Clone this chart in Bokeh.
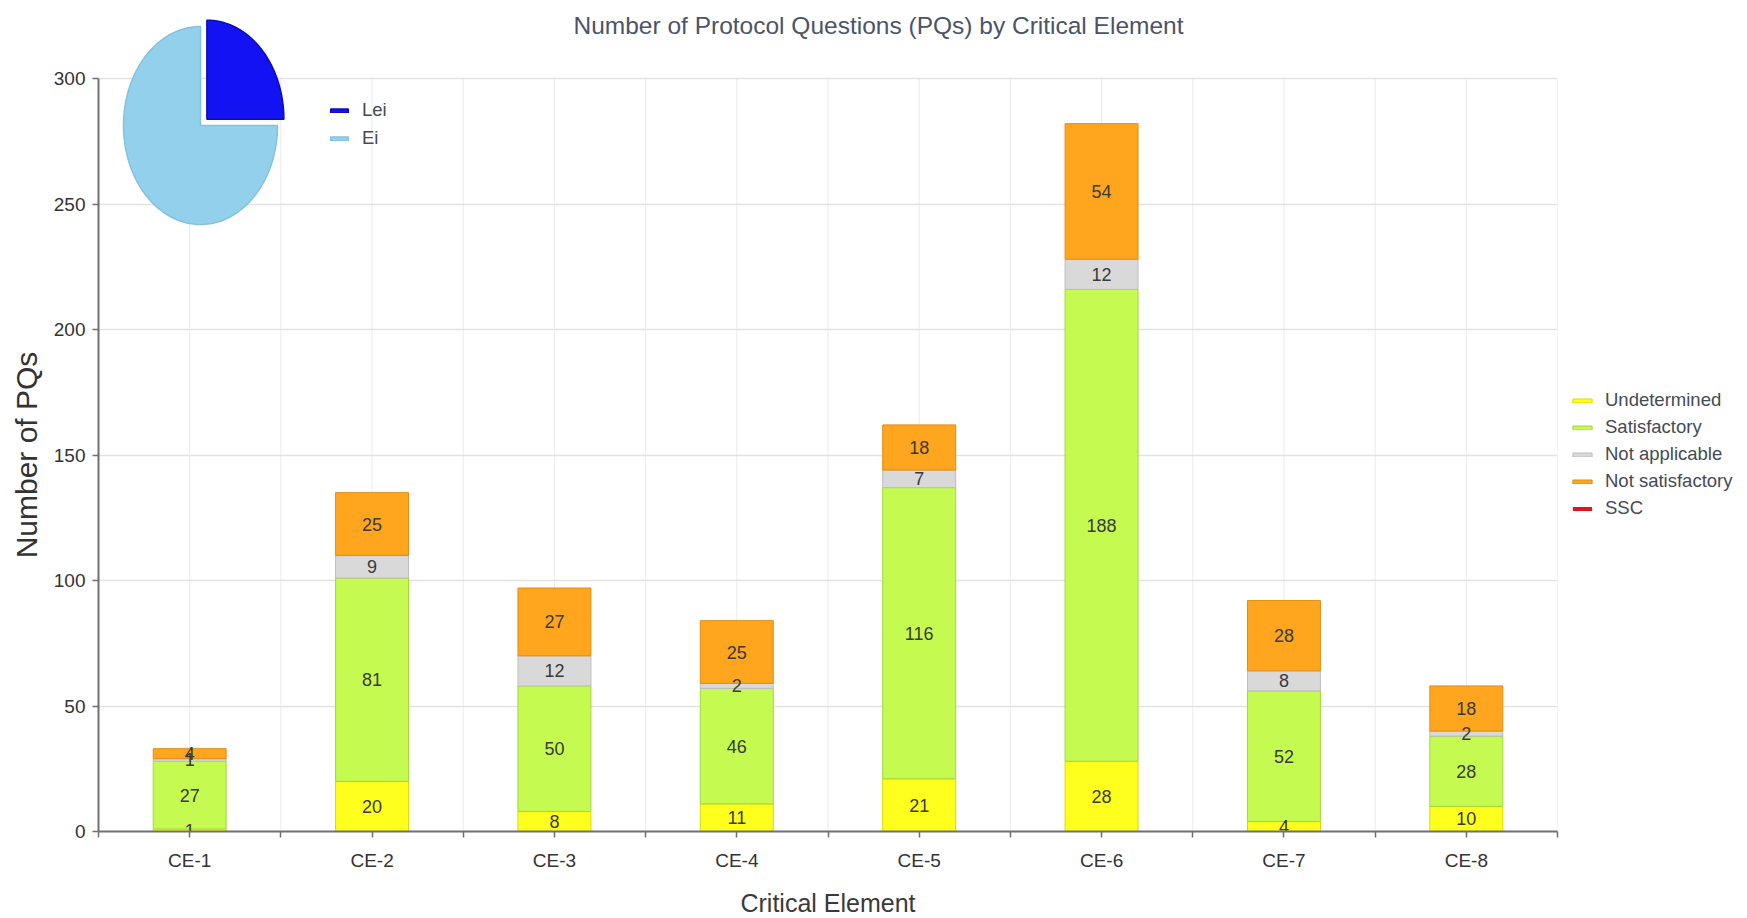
import numpy as np
from bokeh.plotting import figure
from bokeh.models import (ColumnDataSource, FixedTicker, Legend, LegendItem, Range1d, Label, Title)
from bokeh.core.properties import value
from bokeh.embed import file_html
from bokeh.resources import INLINE

# ---------------- data ----------------
categories = ["CE-1", "CE-2", "CE-3", "CE-4", "CE-5", "CE-6", "CE-7", "CE-8"]
undetermined = [1, 20, 8, 11, 21, 28, 4, 10]
satisfactory = [27, 81, 50, 46, 116, 188, 52, 28]
not_applicable = [1, 9, 12, 2, 7, 12, 8, 2]
not_satisfactory = [4, 25, 27, 25, 18, 54, 28, 18]
ssc = [0, 0, 0, 0, 0, 0, 0, 0]
series_names = ["Undetermined", "Satisfactory", "Not applicable", "Not satisfactory", "SSC"]
y_ticks = [0, 50, 100, 150, 200, 250, 300]
pie_labels = ["Lei", "Ei"]
pie_values = [25, 75]
title_text = "Number of Protocol Questions (PQs) by Critical Element"
x_title = "Critical Element"
y_title = "Number of PQs"

# ---------------- styles ----------------
FONT = "Liberation Sans"
fill_colors = ["#ffff1e", "#c5fb50", "#d9d9d9", "#ffa51e", "#e8141c"]
line_colors = ["#dcd800", "#a3d83a", "#bdbdbd", "#e48c10", None]
pie_fill = ["#1212f2", "#93d0ec"]
pie_line = ["#0b0bc0", "#82c1e0"]

# geometry (pixels, relative to the frame)
FRAME_W, FRAME_H = 1459, 821
TOP_GAP = 68                        # px between frame top and the top value line
px_per_unit = (FRAME_H - TOP_GAP) / float(y_ticks[-1])
y_top = y_ticks[-1] + TOP_GAP / px_per_unit
n = len(categories)
Y_TITLE_SIZE = 30
Y_TITLE_LEN = 6.891 * Y_TITLE_SIZE   # approx. rendered length of the y title


def dx(px):  # horizontal pixels -> data units of main x range
    return px / float(FRAME_W) * n


def dy_from_top(px):  # pixels from frame top -> data y
    return y_top - px / px_per_unit


series = [undetermined, satisfactory, not_applicable, not_satisfactory, ssc]
keys = ["s%d" % i for i in range(len(series))]
xs = np.arange(n) + 0.5
boundaries = np.arange(n + 1).astype(float)

src = ColumnDataSource(dict(x=xs.tolist(), **{k: s for k, s in zip(keys, series)}))

p = figure(frame_width=FRAME_W, frame_height=FRAME_H, output_backend="svg",
           toolbar_location=None,
           x_range=Range1d(0, n), y_range=Range1d(0, y_top),
           min_border_left=98, min_border_right=182, min_border_top=10,
           min_border_bottom=5, outline_line_color=None)

# vertical grid lines (stop at the top tick)
gx = sorted(list(xs) + list(boundaries))
p.segment(x0=gx, y0=[0] * len(gx), x1=gx, y1=[y_ticks[-1]] * len(gx),
          line_color="#ebebeb", line_width=1, level="underlay")
p.xgrid.visible = False
p.ygrid.ticker = FixedTicker(ticks=y_ticks)
p.ygrid.grid_line_color = "#e2e2e2"
p.ygrid.grid_line_width = 1.5

renderers = p.vbar_stack(keys, x="x", width=0.4, source=src,
                         fill_color=fill_colors, line_color=line_colors, line_width=1)

# segment labels
lx, ly, lt = [], [], []
bottom = np.zeros(n)
for s in series:
    arr = np.array(s, dtype=float)
    for i, v in enumerate(arr):
        if v > 0:
            lx.append(float(xs[i])); ly.append(float(bottom[i] + v / 2.0)); lt.append(str(int(v)))
    bottom = bottom + arr
lab = ColumnDataSource(dict(x=lx, y=ly, t=lt))
p.text(x="x", y="y", text="t", source=lab, text_align="center", text_baseline="middle",
       text_font=value(FONT), text_font_size="18px", text_color="#3a3a3a")

# axes
p.xaxis.ticker = FixedTicker(ticks=list(xs), minor_ticks=list(boundaries))
p.xaxis.major_label_overrides = {float(x): c for x, c in zip(xs, categories)}
p.yaxis.ticker = FixedTicker(ticks=y_ticks)
p.yaxis.bounds = (0, y_ticks[-1])
for ax in (p.xaxis[0], p.yaxis[0]):
    ax.axis_line_color = "#707070"
    ax.axis_line_width = 2
    ax.major_tick_line_color = "#707070"
    ax.major_tick_line_width = 1.5
    ax.major_tick_out = 6
    ax.major_tick_in = 0
    ax.major_label_text_font = FONT
    ax.major_label_text_font_size = "19px"
    ax.major_label_text_color = "#333333"
    ax.axis_label_text_font_style = "normal"
p.xaxis.minor_tick_line_color = "#707070"
p.xaxis.minor_tick_line_width = 1.5
p.xaxis.minor_tick_out = 6
p.xaxis.minor_tick_in = 0
p.yaxis.minor_tick_line_color = None
p.xaxis.major_label_standoff = 12
p.yaxis.major_label_standoff = 7
p.xaxis.axis_label = x_title
p.xaxis.axis_label_text_font = FONT
p.xaxis.axis_label_text_font_size = "25px"
p.xaxis.axis_label_text_color = "#3a3a3a"
p.xaxis.axis_label_standoff = 15

# y-axis title as a side title, centred on the value span (middle tick)
mid_px = (y_ticks[0] + y_ticks[-1]) / 2.0 * px_per_unit
p.add_layout(Title(text=y_title, align="left", offset=mid_px - Y_TITLE_LEN / 2.0, standoff=15,
                   text_font=FONT, text_font_size="%dpx" % Y_TITLE_SIZE, text_font_style="normal",
                   text_color="#333333"), "left")

# chart title
p.add_layout(Label(x=dx(780), y=dy_from_top(15), text=title_text, text_align="center",
                   text_baseline="middle", text_font=FONT, text_font_size="24.5px",
                   text_color="#4b5468"))

legend = Legend(items=[LegendItem(label=nm, renderers=[r]) for nm, r in zip(series_names, renderers)],
                location=(13, 311), orientation="vertical",
                glyph_width=24, glyph_height=5, label_standoff=11, label_height=24,
                spacing=3, padding=5, margin=0,
                label_text_font=FONT, label_text_font_size="18.5px", label_text_color="#454a55",
                border_line_color=None, background_fill_alpha=0)
p.add_layout(legend, "right")

# ---------------- pie (drawn in its own ranges on top) ----------------
RX, RY = 77.0, 99.0                 # pie radii in pixels
PIE_CX, PIE_CY = 102.0, 115.0       # pie centre, px from frame left / top
EXPLODE = 9.0
p.extra_x_ranges = {"pie": Range1d(-PIE_CX / RX, (FRAME_W - PIE_CX) / RX)}
p.extra_y_ranges = {"pie": Range1d(-(FRAME_H - PIE_CY) / RY, PIE_CY / RY)}

total = float(sum(pie_values))
pxs, pys = [], []
start = np.pi / 2
for i, v in enumerate(pie_values):
    end = start - 2 * np.pi * v / total
    th = np.linspace(start, end, 160)
    mid = (start + end) / 2
    ox = EXPLODE * np.cos(mid) / RX if i == 0 else 0.0
    oy = EXPLODE * np.sin(mid) / RY if i == 0 else 0.0
    pxs.append([ox] + (ox + np.cos(th)).tolist() + [ox])
    pys.append([oy] + (oy + np.sin(th)).tolist() + [oy])
    start = end
psrc = ColumnDataSource(dict(xs=pxs, ys=pys, fc=pie_fill, lc=pie_line, lab=pie_labels))
pr = p.patches(xs="xs", ys="ys", fill_color="fc", line_color="lc", line_width=1.5,
               source=psrc, x_range_name="pie", y_range_name="pie")
pleg = Legend(items=[LegendItem(label=pie_labels[i], renderers=[pr], index=i)
                     for i in range(len(pie_labels))],
              location=(230, FRAME_H - 140), glyph_width=22, glyph_height=5, label_standoff=12,
              label_height=24, spacing=4, padding=0, margin=0,
              label_text_font=FONT, label_text_font_size="18.5px", label_text_color="#454a55",
              border_line_color=None, background_fill_alpha=0)
p.add_layout(pleg)

open("out.html", "w").write(file_html(p, INLINE))
